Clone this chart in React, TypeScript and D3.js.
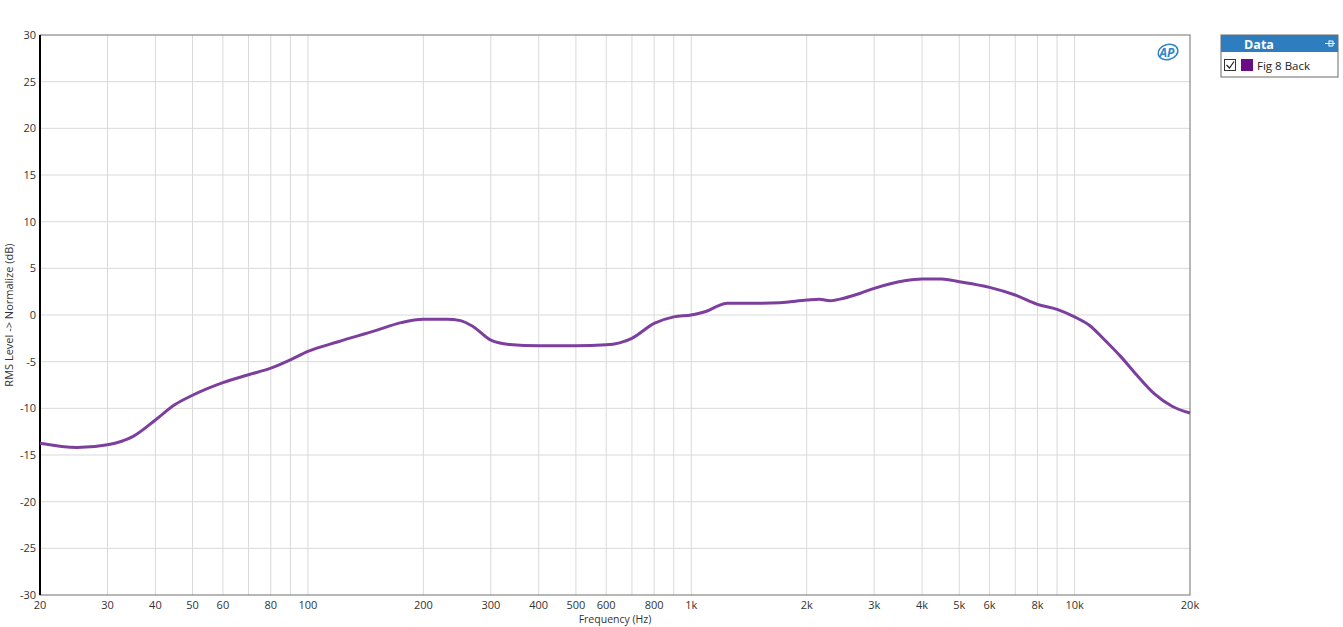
import * as d3 from "d3";
import { useEffect, useRef } from "react";

const FREQS = [
  20, 25, 30, 35, 40, 45, 50, 60, 70, 80, 90, 100, 120, 150, 175, 200, 230, 250,
  270, 300, 335, 400, 500, 600, 700, 800, 900, 1000, 1100, 1170, 1240, 1500,
  1700, 2000, 2160, 2300, 2500, 2750, 3000, 3600, 4000, 4500, 5000, 6000, 7000,
  8000, 9000, 10000, 10900, 12000, 13200, 14500, 16100, 18000, 20000,
];
const LEVELS = [
  -13.75, -14.2, -13.9, -13.0, -11.25, -9.6, -8.6, -7.25, -6.4, -5.7, -4.8,
  -3.9, -2.86, -1.68, -0.82, -0.45, -0.45, -0.6, -1.25, -2.7, -3.15, -3.3,
  -3.3, -3.2, -2.5, -0.9, -0.2, 0, 0.43, 0.95, 1.25, 1.25, 1.3, 1.6, 1.7, 1.53,
  1.8, 2.3, 2.86, 3.68, 3.86, 3.86, 3.57, 2.96, 2.14, 1.14, 0.6, -0.2, -1.07,
  -2.7, -4.46, -6.4, -8.4, -9.8, -10.5,
];
const X_TICKS = [
  20, 30, 40, 50, 60, 80, 100, 200, 300, 400, 500, 600, 800, 1000, 2000, 3000,
  4000, 5000, 6000, 8000, 10000, 20000,
];
const Y_TICKS = [30, 25, 20, 15, 10, 5, 0, -5, -10, -15, -20, -25, -30];
const SERIES_NAME = "Fig 8 Back";

const W = 1343;
const H = 627;
const FONT = "'Open Sans', 'Noto Sans', sans-serif";

const fmtHz = (f: number) => (f >= 1000 ? `${f / 1000}k` : `${f}`);

export default function App() {
  const svgRef = useRef<SVGSVGElement>(null);

  useEffect(() => {
    if (!svgRef.current) return;
    const svg = d3.select(svgRef.current);
    svg.selectAll("*").remove();

    const left = 40, right = 1190, top = 35, bottom = 595;
    const x = d3.scaleLog().domain([20, 20000]).range([left, right]);
    const y = d3.scaleLinear().domain([-30, 30]).range([bottom, top]);

    // Grid: vertical (every 1-9 step per decade)
    const minor: number[] = [];
    for (let dec = 10; dec <= 10000; dec *= 10) {
      for (let m = 1; m <= 9; m++) {
        const f = dec * m;
        if (f > 20 && f < 20000) minor.push(f);
      }
    }
    svg
      .append("g")
      .selectAll("line")
      .data(minor)
      .enter()
      .append("line")
      .attr("x1", (d) => x(d))
      .attr("x2", (d) => x(d))
      .attr("y1", top)
      .attr("y2", bottom)
      .attr("stroke", "#d9d9d9")
      .attr("stroke-width", 1);

    // Grid: horizontal
    svg
      .append("g")
      .selectAll("line")
      .data(Y_TICKS.filter((v) => v > -30 && v < 30))
      .enter()
      .append("line")
      .attr("x1", left)
      .attr("x2", right)
      .attr("y1", (d) => y(d))
      .attr("y2", (d) => y(d))
      .attr("stroke", "#d9d9d9")
      .attr("stroke-width", 1);

    // Frame
    svg
      .append("rect")
      .attr("x", left)
      .attr("y", top)
      .attr("width", right - left)
      .attr("height", bottom - top)
      .attr("fill", "none")
      .attr("stroke", "#707070")
      .attr("stroke-width", 1);
    svg
      .append("line")
      .attr("x1", left)
      .attr("x2", left)
      .attr("y1", top)
      .attr("y2", bottom)
      .attr("stroke", "#000")
      .attr("stroke-width", 2);

    // Y tick labels
    svg
      .append("g")
      .selectAll("text")
      .data(Y_TICKS)
      .enter()
      .append("text")
      .attr("x", left - 4)
      .attr("y", (d) => y(d) + 4)
      .attr("text-anchor", "end")
      .attr("font-family", FONT)
      .attr("font-size", 11)
      .attr("fill", "#333")
      .text((d) => `${d}`);

    // X tick labels
    svg
      .append("g")
      .selectAll("text")
      .data(X_TICKS)
      .enter()
      .append("text")
      .attr("x", (d) => x(d))
      .attr("y", bottom + 14)
      .attr("text-anchor", "middle")
      .attr("font-family", FONT)
      .attr("font-size", 11)
      .attr("fill", "#333")
      .text((d) => fmtHz(d));

    // Axis titles
    svg
      .append("text")
      .attr("x", (left + right) / 2)
      .attr("y", 623)
      .attr("text-anchor", "middle")
      .attr("font-family", FONT)
      .attr("font-size", 10.5)
      .attr("fill", "#333")
      .text("Frequency (Hz)");
    svg
      .append("text")
      .attr("transform", `translate(13,${(top + bottom) / 2}) rotate(-90)`)
      .attr("text-anchor", "middle")
      .attr("font-family", FONT)
      .attr("font-size", 11)
      .attr("fill", "#333")
      .text("RMS Level -> Normalize (dB)");

    // Data line
    const pts = FREQS.map((f, i) => [f, LEVELS[i]] as [number, number]);
    const line = d3
      .line<[number, number]>()
      .x((d) => x(d[0]))
      .y((d) => y(d[1]))
      .curve(d3.curveMonotoneX);
    svg
      .append("path")
      .datum(pts)
      .attr("d", line)
      .attr("fill", "none")
      .attr("stroke", "#7d3f9d")
      .attr("stroke-width", 3)
      .attr("stroke-linejoin", "round");

    // AP logo
    const logo = svg.append("g").attr("transform", "translate(1168,52)");
    logo
      .append("ellipse")
      .attr("rx", 10)
      .attr("ry", 7.5)
      .attr("fill", "none")
      .attr("stroke", "#2f86c8")
      .attr("stroke-width", 1.6)
      .attr("transform", "rotate(-15)");
    logo
      .append("text")
      .attr("x", -1)
      .attr("y", 4.5)
      .attr("text-anchor", "middle")
      .attr("font-family", FONT)
      .attr("font-size", 12)
      .attr("font-weight", "bold")
      .attr("font-style", "italic")
      .attr("fill", "#2f86c8")
      .text("AP");

    // Legend
    const lg = svg.append("g").attr("transform", "translate(1221,35)");
    lg.append("rect")
      .attr("width", 117)
      .attr("height", 42)
      .attr("fill", "#fff")
      .attr("stroke", "#6a6a6a")
      .attr("stroke-width", 1);
    lg.append("rect")
      .attr("width", 117)
      .attr("height", 17)
      .attr("fill", "#2e7dbe");
    lg.append("text")
      .attr("x", 38)
      .attr("y", 13.5)
      .attr("text-anchor", "middle")
      .attr("font-family", FONT)
      .attr("font-size", 12.5)
      .attr("font-weight", "bold")
      .attr("fill", "#fff")
      .text("Data");
    lg.append("path")
      .attr("d", "M104,8.5 H114 M108,5.5 V11.5 M108,6 H112 V11 H108")
      .attr("fill", "none")
      .attr("stroke", "#fff")
      .attr("stroke-width", 1);
    lg.append("rect")
      .attr("x", 3.5)
      .attr("y", 24.5)
      .attr("width", 11)
      .attr("height", 11)
      .attr("fill", "#fff")
      .attr("stroke", "#333");
    lg.append("path")
      .attr("d", "M5.5,30 L8.5,33 L13,26.5")
      .attr("fill", "none")
      .attr("stroke", "#222")
      .attr("stroke-width", 1.2);
    lg.append("rect")
      .attr("x", 20)
      .attr("y", 24)
      .attr("width", 12)
      .attr("height", 12)
      .attr("fill", "#6a0d85");
    lg.append("text")
      .attr("x", 36)
      .attr("y", 34.5)
      .attr("font-family", FONT)
      .attr("font-size", 11.5)
      .attr("fill", "#222")
      .text(SERIES_NAME);
  }, []);

  return (
    <svg
      ref={svgRef}
      width={W}
      height={H}
      style={{ position: "absolute", left: 0, top: 0, background: "#fff" }}
    />
  );
}
